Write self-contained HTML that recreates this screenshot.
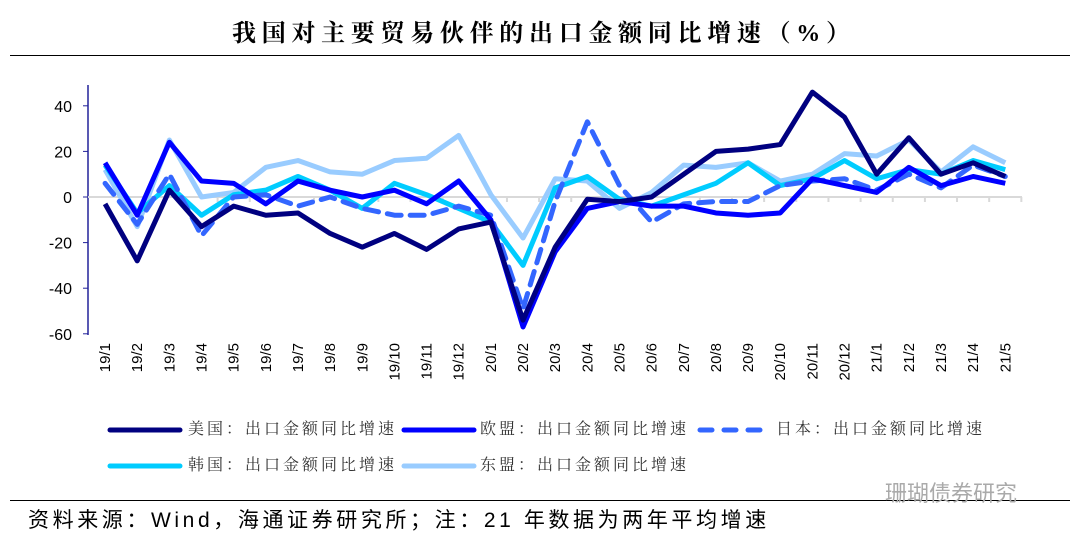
<!DOCTYPE html>
<html><head><meta charset="utf-8"><style>
body{margin:0;background:#fff;width:1080px;height:535px;overflow:hidden;position:relative;font-family:"Liberation Sans","Noto Sans CJK SC",sans-serif}
.t{position:absolute;white-space:nowrap}
.lg{position:absolute;white-space:nowrap;font-family:"Liberation Serif","Noto Serif CJK SC",serif;font-size:16px;letter-spacing:3px;color:#333;line-height:20px}
</style></head><body>
<div class="t" style="left:232px;top:13px;font-family:'Liberation Serif','Noto Serif CJK SC',serif;font-size:24px;font-weight:bold;letter-spacing:5.7px;color:#000">我国对主要贸易伙伴的出口金额同比增速（%）</div>
<div class="t" style="left:10px;top:55px;width:1060px;height:1px;background:#000"></div>
<div class="t" style="left:10px;top:500px;width:1060px;height:1px;background:#000"></div>
<div class="t" style="left:28px;top:504px;font-size:21px;letter-spacing:3.6px;color:#000">资料来源：Wind，海通证券研究所；注：21 年数据为两年平均增速</div>
<div class="t" style="left:885px;top:476px;font-size:22px;color:#aaa">珊瑚债券研究</div>
<div class="lg" style="left:188px;top:420px">美国：出口金额同比增速</div>
<div class="lg" style="left:480px;top:420px">欧盟：出口金额同比增速</div>
<div class="lg" style="left:776px;top:420px">日本：出口金额同比增速</div>
<div class="lg" style="left:188px;top:456px">韩国：出口金额同比增速</div>
<div class="lg" style="left:480px;top:456px">东盟：出口金额同比增速</div>
<svg class="t" style="left:0;top:0" width="1080" height="535" id="chart"></svg>
<script>
const categories=["19/1","19/2","19/3","19/4","19/5","19/6","19/7","19/8","19/9","19/10","19/11","19/12","20/1","20/2","20/3","20/4","20/5","20/6","20/7","20/8","20/9","20/10","20/11","20/12","21/1","21/2","21/3","21/4","21/5"];
const usValues=[-3,-28,3,-13,-4,-8,-7,-16,-22,-16,-23,-14,-11,-54,-22,-1,-2,0,10,20,21,23,46,35,10,26,10,15,9];
const euValues=[15,-8,24,7,6,-3,7,3,0,3,-3,7,-10,-57,-24,-5,-2,-4,-4,-7,-8,-7,8,5,2,13,5,9,6];
const jpValues=[6,-12,10,-17,0,1,-4,0,-5,-8,-8,-4,-8,-49,-2,33,5,-11,-3,-2,-2,5,7,8,3,10,4,14,9];
const krValues=[14,-7,5,-8,1,3,9,3,-5,6,1,-5,-11,-30,4,9,-1,-4,1,6,15,5,8,16,8,12,10,16,12];
const aseanValues=[12,-13,25,0,2,13,16,11,10,16,17,27,1,-18,8,7,-5,2,14,13,15,7,10,19,18,25,11,22,15];
const yTicks=[40,20,0,-20,-40,-60];
const NS="http://www.w3.org/2000/svg",svg=document.getElementById("chart");
const X0=89,STEP=32.15;
const xs=i=>X0+STEP*(i+0.5);
const ys=v=>197-v*2.28;
function mk(t,a){const e=document.createElementNS(NS,t);for(const k in a)e.setAttribute(k,a[k]);svg.appendChild(e);return e;}
let ax=mk("line",{x1:88,y1:85,x2:88,y2:335,stroke:"#22229a","stroke-width":1.5});


yTicks.forEach(v=>{
 const tk=mk("line",{x1:83,x2:88,y1:ys(v),y2:ys(v),stroke:"#22229a"});
 
 
 const tx=mk("text",{x:72,y:ys(v)+6,"text-anchor":"end","font-size":16,fill:"#000",style:"font-family:'Liberation Sans',sans-serif"});
 tx.textContent=v;
 
 
});
let zl=mk("line",{x1:88,x2:1022,y1:ys(0),y2:ys(0),stroke:"#d9d9d9","stroke-width":2});


categories.forEach((c,i)=>{
 const tk=mk("line",{x1:X0+STEP*(i+1),x2:X0+STEP*(i+1),y1:ys(0),y2:ys(0)+5,stroke:"#d9d9d9","stroke-width":2});
 
 
 const tx=mk("text",{x:0,y:0,"text-anchor":"end","font-size":15,fill:"#000",style:"font-family:'Liberation Sans',sans-serif",transform:`translate(${xs(i)+5},343) rotate(-90)`});
 tx.textContent=c;
 
 
});
const series=[
 {d:aseanValues,c:"#99ccff",n:"asean"},
 {d:krValues,c:"#00ccff",n:"korea"},
 {d:jpValues,c:"#3366ff",n:"japan",dash:"14,9"},
 {d:euValues,c:"#0000ff",n:"eu"},
 {d:usValues,c:"#000080",n:"us"}];
series.forEach(s=>{
 const p=mk("polyline",{points:s.d.map((v,i)=>xs(i)+","+ys(v)).join(" "),fill:"none",stroke:s.c,"stroke-width":5,"stroke-linejoin":"round","stroke-linecap":s.dash?"round":"butt"});
 if(s.dash)p.setAttribute("stroke-dasharray",s.dash);
 
 
});
const swatches=[
 {x:110,y:430,c:"#000080"},
 {x:404,y:430,c:"#0000ff"},
 {x:700,y:430,c:"#3366ff",dash:true},
 {x:110,y:466,c:"#00ccff"},
 {x:404,y:466,c:"#99ccff"}];
swatches.forEach(l=>{
 const ln=mk("line",{x1:l.x,x2:l.x+70,y1:l.y,y2:l.y,stroke:l.c,"stroke-width":5,"stroke-linecap":"round"});
 if(l.dash){ln.setAttribute("x2",l.x+60);ln.setAttribute("stroke-dasharray","12,12");}
 
 
});
</script>
</body></html>
